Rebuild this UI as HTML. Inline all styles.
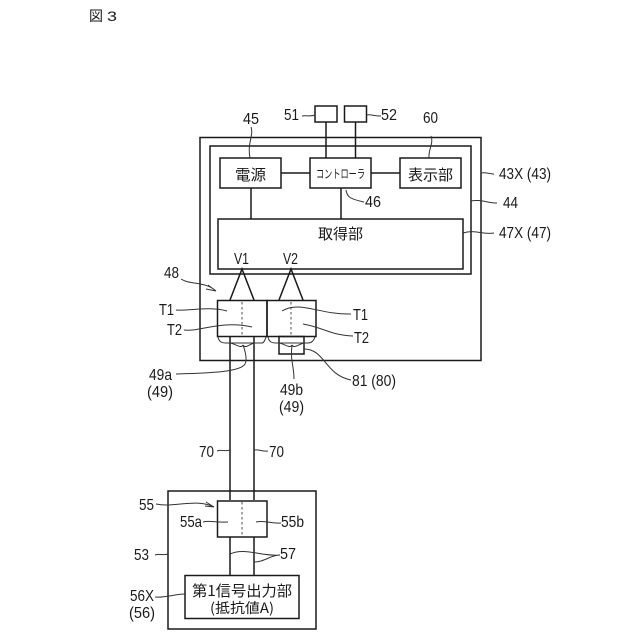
<!DOCTYPE html>
<html><head><meta charset="utf-8"><style>
html,body{margin:0;padding:0;background:#fff}
svg{display:block}
text{font-family:"Liberation Sans","Noto Sans CJK JP",sans-serif;fill:#1a1a1a;font-size:16px}
.j{font-family:"Noto Sans CJK JP",sans-serif;font-size:15px}
.b{fill:none;stroke:#1a1a1a;stroke-width:1.5}
.t{fill:none;stroke:#333;stroke-width:1}
.d{fill:none;stroke:#777;stroke-width:1.3;stroke-dasharray:2.5 2.5}
</style></head><body>
<svg width="640" height="640" viewBox="0 0 640 640" xmlns="http://www.w3.org/2000/svg">
<text x="89" y="21" class="j" style="font-size:14px">図</text>
<text x="107" y="21" style="font-size:14px" textLength="10" lengthAdjust="spacingAndGlyphs">3</text>
<!-- main boxes -->
<rect class="b" x="200" y="137.500" width="281" height="223"/>
<rect class="b" x="210" y="146" width="261" height="128"/>
<rect class="b" x="220" y="158" width="61" height="30"/>
<rect class="b" x="310" y="158" width="61" height="30"/>
<rect class="b" x="400" y="158" width="61" height="30"/>
<rect class="b" x="218" y="219" width="245" height="50"/>
<rect class="b" x="315" y="106" width="22" height="16"/>
<rect class="b" x="344.500" y="106" width="22" height="16"/>
<path class="b" d="M326 122V158M355.500 122V158M281 173H310M371 173H400M251 188V219M341 188V219"/>
<!-- connector -->
<path class="b" d="M230 300L242 269L254 300M279 300L291 269L303 300"/>
<rect class="b" x="217.500" y="300.500" width="49.500" height="36"/>
<rect class="b" x="267" y="300.500" width="49" height="36"/>
<rect class="b" x="279" y="336.500" width="25" height="17.500"/>
<path class="d" d="M242 302V336M291 302V336"/>
<path class="b" d="M230 336V500M254 336V500"/>
<path class="t" d="M218 337C219 342 222 343 226 343H262C264 343 265 340 266 337M268 337C269 342 272 343 276 343H308C312 343 314 340 315 337"/>
<!-- lower -->
<rect class="b" x="168" y="491" width="148" height="138"/>
<rect class="b" x="217.500" y="501" width="49.500" height="36"/>
<path class="d" d="M242 502V536"/>
<path class="b" d="M230 537V575M254 537V575"/>
<rect class="b" x="185" y="575.500" width="114" height="43"/>
<!-- thin leaders -->
<path class="t" d="M251 127C254 135 247 143 250 158"/>
<path class="t" d="M302 116C305 115 309 117 315 115"/>
<path class="t" d="M367 115C370 114 374 116 381 116"/>
<path class="t" d="M431 136C434 143 428 150 429 158"/>
<path class="t" d="M346 190C347 197 350 199 364 202"/>
<path class="t" d="M481 173C485 172 490 174 494 174"/>
<path class="t" d="M471 201C480 199 488 203 497 203"/>
<path class="t" d="M463 233C475 229 482 235 494 233"/>
<path class="t" d="M181 279C190 285 205 281 216 291M216 291L208 285M216 291L206 289"/>
<path class="t" d="M176 310C190 311 210 306 227 311"/>
<path class="t" d="M184 330C200 332 220 320 252 327"/>
<path class="t" d="M282 311C300 300 320 315 351 314"/>
<path class="t" d="M303 324C325 328 330 335 353 336"/>
<path class="t" d="M176 374C200 373 240 373 245 364C248 358 244 348 243 345M243 345C241 349 236 344 230 343M243 345C245 349 250 344 254 343"/>
<path class="t" d="M292 345C290 349 285 344 279 343M292 345C294 349 299 344 304 343M292 345C290 360 294 366 294 379"/>
<path class="t" d="M304 349C325 349 325 375 351 380"/>
<path class="t" d="M217 451C221 449 225 452 230 450"/>
<path class="t" d="M254 450C259 449 263 452 268 451"/>
<path class="t" d="M156 504C175 508 195 498 214 507M214 507L206 502M214 507L205 506"/>
<path class="t" d="M203 522C210 520 215 523 228 522"/>
<path class="t" d="M256 522C265 520 272 524 281 523"/>
<path class="t" d="M155 555C160 553 162 556 168 554"/>
<path class="t" d="M230 554C245 547 262 557 280 555M254 562C265 562 270 555 280 555"/>
<path class="t" d="M155 597C165 598 175 594 185 594"/>
<!-- labels -->
<text x="243" y="124" textLength="16" lengthAdjust="spacingAndGlyphs">45</text>
<text x="284" y="120" textLength="15" lengthAdjust="spacingAndGlyphs">51</text>
<text x="381" y="120" textLength="16" lengthAdjust="spacingAndGlyphs">52</text>
<text x="423" y="123" textLength="15" lengthAdjust="spacingAndGlyphs">60</text>
<text x="365" y="207" textLength="16" lengthAdjust="spacingAndGlyphs">46</text>
<text x="499" y="179" textLength="52" lengthAdjust="spacingAndGlyphs">43X (43)</text>
<text x="503" y="208" textLength="15" lengthAdjust="spacingAndGlyphs">44</text>
<text x="499" y="238" textLength="52" lengthAdjust="spacingAndGlyphs">47X (47)</text>
<text x="234" y="264" textLength="15" lengthAdjust="spacingAndGlyphs">V1</text>
<text x="283" y="264" textLength="15" lengthAdjust="spacingAndGlyphs">V2</text>
<text x="164" y="278" textLength="15" lengthAdjust="spacingAndGlyphs">48</text>
<text x="159" y="315" textLength="15" lengthAdjust="spacingAndGlyphs">T1</text>
<text x="167" y="335" textLength="15" lengthAdjust="spacingAndGlyphs">T2</text>
<text x="353" y="320" textLength="15" lengthAdjust="spacingAndGlyphs">T1</text>
<text x="354" y="343" textLength="15" lengthAdjust="spacingAndGlyphs">T2</text>
<text x="149" y="380" textLength="23" lengthAdjust="spacingAndGlyphs">49a</text>
<text x="147" y="397" textLength="26" lengthAdjust="spacingAndGlyphs">(49)</text>
<text x="280" y="395" textLength="23" lengthAdjust="spacingAndGlyphs">49b</text>
<text x="279" y="412" textLength="25" lengthAdjust="spacingAndGlyphs">(49)</text>
<text x="352" y="386" textLength="44" lengthAdjust="spacingAndGlyphs">81 (80)</text>
<text x="199" y="457" textLength="15" lengthAdjust="spacingAndGlyphs">70</text>
<text x="269" y="457" textLength="15" lengthAdjust="spacingAndGlyphs">70</text>
<text x="139" y="510" textLength="15" lengthAdjust="spacingAndGlyphs">55</text>
<text x="180" y="527" textLength="22" lengthAdjust="spacingAndGlyphs">55a</text>
<text x="281" y="527" textLength="23" lengthAdjust="spacingAndGlyphs">55b</text>
<text x="134" y="560" textLength="15" lengthAdjust="spacingAndGlyphs">53</text>
<text x="280" y="559" textLength="16" lengthAdjust="spacingAndGlyphs">57</text>
<text x="130" y="601" textLength="24" lengthAdjust="spacingAndGlyphs">56X</text>
<text x="129" y="618" textLength="26" lengthAdjust="spacingAndGlyphs">(56)</text>
<text x="235" y="180" class="j" textLength="31" lengthAdjust="spacingAndGlyphs">電源</text>
<text x="316" y="178" class="j" style="font-size:12px" textLength="49" lengthAdjust="spacingAndGlyphs">コントローラ</text>
<text x="408" y="180" class="j" textLength="45" lengthAdjust="spacingAndGlyphs">表示部</text>
<text x="318" y="239" class="j" textLength="45" lengthAdjust="spacingAndGlyphs">取得部</text>
<text x="192" y="596" class="j" textLength="100" lengthAdjust="spacingAndGlyphs">第1信号出力部</text>
<text x="210" y="613" class="j" style="font-size:14px" textLength="64" lengthAdjust="spacingAndGlyphs">(抵抗値A)</text>
</svg>
</body></html>
